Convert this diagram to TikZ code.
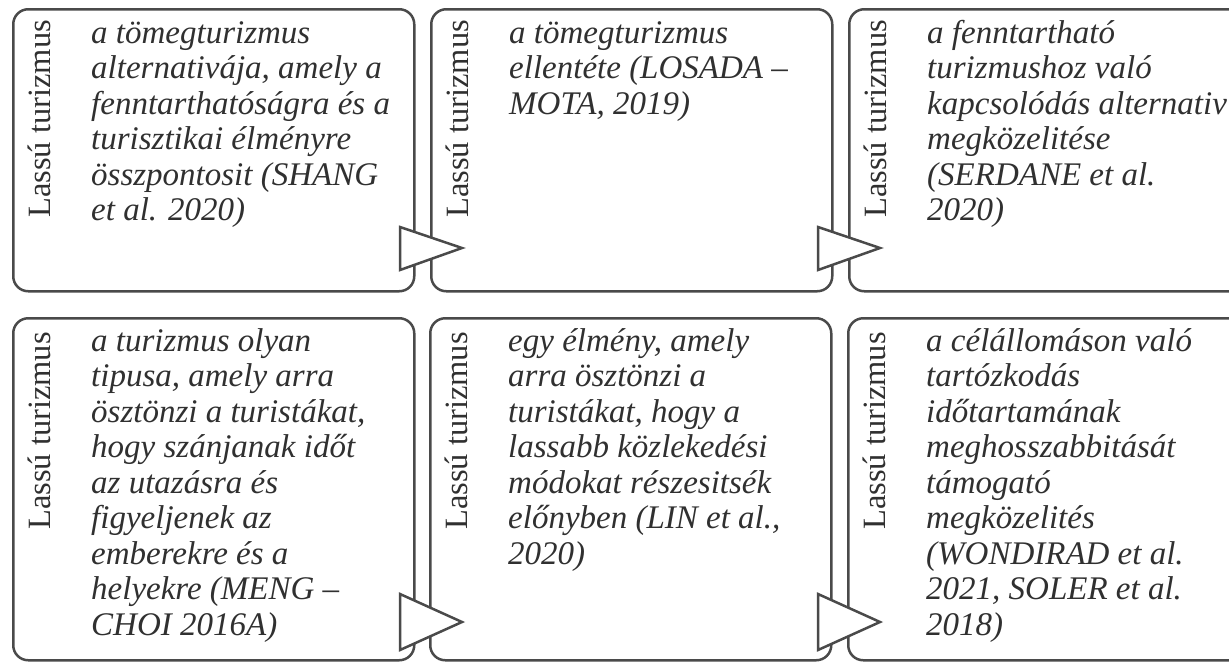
\documentclass[tikz,border=0pt]{standalone}
\usepackage{fontspec}
\setmainfont{Liberation Serif}
\definecolor{boxgray}{HTML}{4A4A4A}
\definecolor{txtgray}{HTML}{303030}
\newcommand{\firstlines}[1]{\begin{tabular}[t]{@{}l@{}}#1\end{tabular}}
\begin{document}
\begin{tikzpicture}[x=1pt,y=-1pt,
  box/.style={draw=boxgray, line width=2.5pt, rounded corners=15pt, fill=white, inner sep=0pt, anchor=north west, minimum width=401pt},
  lbl/.style={rotate=90, anchor=base west, inner sep=0pt, text=txtgray, font=\fontsize{32.5}{36}\selectfont},
  desc/.style={anchor=base west, inner sep=0pt, text=txtgray, font=\fontsize{33}{35.5}\selectfont\itshape},
  tri/.style={draw=boxgray, line width=2.5pt, fill=white, line join=miter}]
\useasboundingbox (0,0) rectangle (1229,664);
\fill[white] (0,0) rectangle (1229,664);
\clip (0,0) rectangle (1229,664);
% boxes
\node[box, minimum height=282pt] (b1) at (12,8) {};
\node[box, minimum height=282pt] (b2) at (430,8) {};
\node[box, minimum height=282pt] (b3) at (848,8) {};
\node[box, minimum height=342pt] (b4) at (12,317) {};
\node[box, minimum height=342pt] (b5) at (429,317) {};
\node[box, minimum height=342pt] (b6) at (847,317) {};
% labels
\node[lbl] (l1) at (50,218) {Lassú turizmus};
\node[lbl] (l2) at (468,218) {Lassú turizmus};
\node[lbl] (l3) at (886,218) {Lassú turizmus};
\node[lbl] (l4) at (50,530) {Lassú turizmus};
\node[lbl] (l5) at (467,530) {Lassú turizmus};
\node[lbl] (l6) at (885,530) {Lassú turizmus};
% texts
\node[desc] (d1) at (91,43) {\firstlines{a tömegturizmus\\alternativája, amely a\\fenntarthatóságra és a\\turisztikai élményre\\összpontosit (SHANG\\et al. 2020)}};
\node[desc] (d2) at (509,43) {\firstlines{a tömegturizmus\\ellentéte (LOSADA –\\MOTA, 2019)}};
\node[desc] (d3) at (927,43) {\firstlines{a fenntartható\\turizmushoz való\\kapcsolódás alternativ\\megközelitése\\(SERDANE et al.\\2020)}};
\node[desc] (d4) at (91,351) {\firstlines{a turizmus olyan\\tipusa, amely arra\\ösztönzi a turistákat,\\hogy szánjanak időt\\az utazásra és\\figyeljenek az\\emberekre és a\\helyekre (MENG –\\CHOI 2016A)}};
\node[desc] (d5) at (508,351) {\firstlines{egy élmény, amely\\arra ösztönzi a\\turistákat, hogy a\\lassabb közlekedési\\módokat részesitsék\\előnyben (LIN et al.,\\2020)}};
\node[desc] (d6) at (926,351) {\firstlines{a célállomáson való\\tartózkodás\\időtartamának\\meghosszabbitását\\támogató\\megközelités\\(WONDIRAD et al.\\2021, SOLER et al.\\2018)}};
% arrow triangles
\draw[tri] (400,227) -- (462,248) -- (400,270) -- cycle;
\draw[tri] (818,227) -- (880,248) -- (818,270) -- cycle;
\draw[tri] (400,594) -- (462,622) -- (400,650) -- cycle;
\draw[tri] (818,594) -- (880,622) -- (818,650) -- cycle;
\end{tikzpicture}
\end{document}
